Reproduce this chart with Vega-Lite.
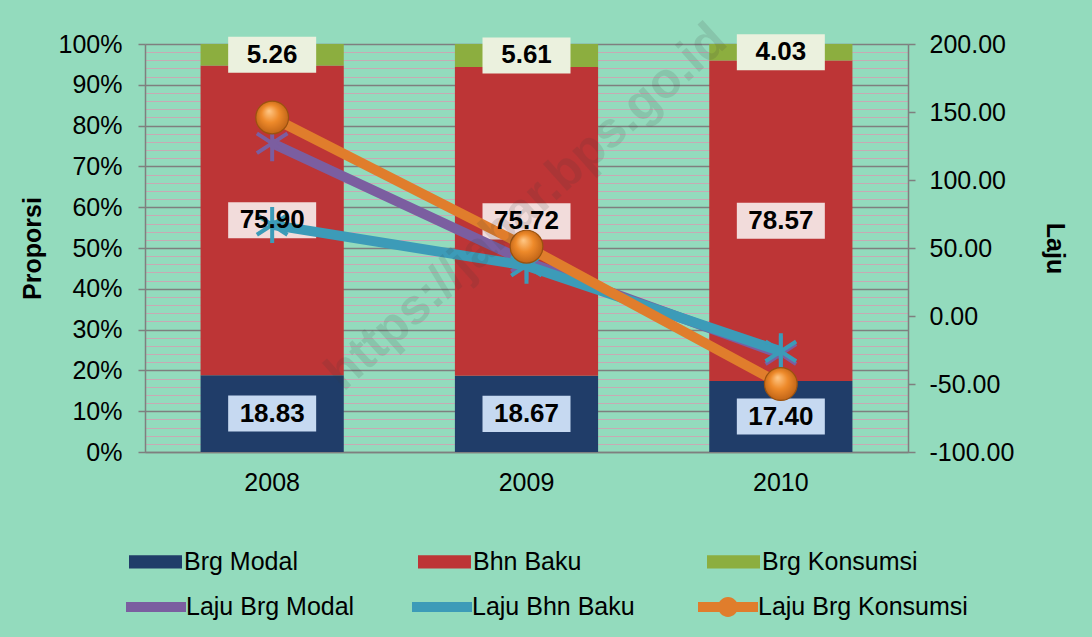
{
  "$schema": "https://vega.github.io/schema/vega-lite/v6.json",
  "width": 763,
  "height": 408,
  "autosize": {"type": "none"},
  "padding": {"left": 145, "top": 44, "right": 184, "bottom": 185},
  "background": "#93dbbd",
  "config": {
    "view": {"stroke": null},
    "font": "Liberation Sans",
    "axis": {"labelFont": "Liberation Sans", "titleFont": "Liberation Sans", "labelColor": "#000000", "titleColor": "#000000"},
    "legend": {"labelFont": "Liberation Sans", "labelColor": "#000000"}
  },
  "datasets": {
    "bars": [
      {"year": "2008", "part": "Brg Modal", "value": 18.83},
      {"year": "2008", "part": "Bhn Baku", "value": 75.90},
      {"year": "2008", "part": "Brg Konsumsi", "value": 5.26},
      {"year": "2009", "part": "Brg Modal", "value": 18.67},
      {"year": "2009", "part": "Bhn Baku", "value": 75.72},
      {"year": "2009", "part": "Brg Konsumsi", "value": 5.61},
      {"year": "2010", "part": "Brg Modal", "value": 17.40},
      {"year": "2010", "part": "Bhn Baku", "value": 78.57},
      {"year": "2010", "part": "Brg Konsumsi", "value": 4.03}
    ],
    "laju": [
      {"year": "2008", "series": "Laju Brg Modal", "value": 127},
      {"year": "2009", "series": "Laju Brg Modal", "value": 40},
      {"year": "2010", "series": "Laju Brg Modal", "value": -28},
      {"year": "2008", "series": "Laju Bhn Baku", "value": 67},
      {"year": "2009", "series": "Laju Bhn Baku", "value": 37},
      {"year": "2010", "series": "Laju Bhn Baku", "value": -26},
      {"year": "2008", "series": "Laju Brg Konsumsi", "value": 146},
      {"year": "2009", "series": "Laju Brg Konsumsi", "value": 51},
      {"year": "2010", "series": "Laju Brg Konsumsi", "value": -50}
    ],
    "watermark": [
      {"year": "2009", "text": "https://jabar.bps.go.id", "value": 80}
    ]
  },
  "encoding": {
    "x": {
      "field": "year",
      "type": "nominal",
      "scale": {"paddingInner": 0.437, "paddingOuter": 0.2185},
      "axis": {"title": null, "labelAngle": 0, "labelFontSize": 25, "labelPadding": 18, "ticks": false, "domainColor": "#7f7f7f", "domainWidth": 1.5}
    }
  },
  "resolve": {"scale": {"y": "independent"}, "axis": {"y": "independent"}},
  "layer": [
    {
      "data": {"name": "bars"},
      "transform": [
        {"calculate": "indexof(['Brg Modal','Bhn Baku','Brg Konsumsi'], datum.part)", "as": "ord"},
        {"stack": "value", "groupby": ["year"], "sort": [{"field": "ord", "order": "ascending"}], "offset": "normalize", "as": ["y0", "y1"]},
        {"calculate": "(datum.y0 + datum.y1) / 2", "as": "ymid"}
      ],
      "layer": [
        {
          "mark": {"type": "bar"},
          "encoding": {
            "y": {
              "field": "y1",
              "type": "quantitative",
              "scale": {"domain": [0, 1]},
              "axis": {
                "title": "Proporsi",
                "orient": "left",
                "values": [0, 0.02, 0.04, 0.06, 0.08, 0.1, 0.12, 0.14, 0.16, 0.18, 0.2, 0.22, 0.24, 0.26, 0.28, 0.3, 0.32, 0.34, 0.36, 0.38, 0.4, 0.42, 0.44, 0.46, 0.48, 0.5, 0.52, 0.54, 0.56, 0.58, 0.6, 0.62, 0.64, 0.66, 0.68, 0.7, 0.72, 0.74, 0.76, 0.78, 0.8, 0.82, 0.84, 0.86, 0.88, 0.9, 0.92, 0.94, 0.96, 0.98, 1],
                "tickCount": 200,
                "format": ".0%",
                "labelExpr": "round(datum.value*100) % 10 == 0 ? datum.label : ''",
                "labelOverlap": false,
                "labelFontSize": 25,
                "labelPadding": 16,
                "tickSize": 7,
                "tickWidth": 1.5,
                "tickColor": {"condition": {"test": "round(datum.value*100) % 10 == 0", "value": "#7f7f7f"}, "value": "transparent"},
                "grid": true,
                "gridWidth": {"condition": {"test": "round(datum.value*100) % 10 == 0", "value": 1.5}, "value": 1.2},
                "gridColor": {"condition": {"test": "round(datum.value*100) % 10 == 0", "value": "#7f7f7f"}, "value": "#c7aab4"},
                "domainColor": "#7f7f7f",
                "domainWidth": 1.5,
                "titleFontSize": 25,
                "titleFontWeight": "bold",
                "titlePadding": 13
              }
            },
            "y2": {"field": "y0"},
            "fill": {
              "field": "part",
              "type": "nominal",
              "scale": {"domain": ["Brg Modal", "Bhn Baku", "Brg Konsumsi"], "range": ["#203d69", "#bd3536", "#8cae3f"]},
              "legend": {
                "title": null,
                "orient": "none",
                "legendX": -16,
                "legendY": 491,
                "direction": "horizontal",
                "columns": 3,
                "gridAlign": "all",
                "columnPadding": 78,
                "symbolType": "M-1,-0.25H1V0.25H-1Z",
                "symbolSize": 2809,
                "symbolStrokeWidth": 0,
                "labelFontSize": 25,
                "labelOffset": 2,
                "labelLimit": 400
              }
            }
          }
        },
        {
          "mark": {"type": "point", "shape": "M-1,-0.41H1V0.41H-1Z", "size": 7744, "filled": true, "opacity": 1},
          "encoding": {
            "y": {"field": "ymid", "type": "quantitative", "axis": {"title": "Proporsi"}},
            "color": {
              "field": "part",
              "type": "nominal",
              "scale": {"domain": ["Brg Modal", "Bhn Baku", "Brg Konsumsi"], "range": ["#c6d9f1", "#f2dcdb", "#ebf1de"]},
              "legend": null
            }
          }
        }
      ]
    },
    {
      "data": {"name": "laju"},
      "encoding": {
        "y": {
          "field": "value",
          "type": "quantitative",
          "scale": {"domain": [-100, 200]},
          "axis": {
            "orient": "right",
            "title": "Laju",
            "values": [-100, -50, 0, 50, 100, 150, 200],
            "format": ".2f",
            "labelExpr": "replace(datum.label, '\u2212', '-')",
            "labelOverlap": false,
            "grid": false,
            "tickSize": 7,
            "tickWidth": 1.5,
            "tickColor": "#7f7f7f",
            "domainColor": "#7f7f7f",
            "domainWidth": 1.5,
            "labelFontSize": 25,
            "labelPadding": 14,
            "titleFontSize": 25,
            "titleFontWeight": "bold",
            "titleAngle": 90,
            "titlePadding": 28
          }
        }
      },
      "layer": [
        {
          "transform": [{"filter": "datum.series === 'Laju Brg Modal'"}],
          "mark": {"type": "line", "strokeWidth": 10},
          "encoding": {
            "stroke": {
              "field": "series",
              "type": "nominal",
              "scale": {"domain": ["Laju Brg Modal", "Laju Bhn Baku", "Laju Brg Konsumsi"], "range": ["#7b5ea0", "#3c9bb8", "#e07d2c"]},
              "legend": {
                "title": null,
                "orient": "none",
                "legendX": -19,
                "legendY": 533,
                "direction": "horizontal",
                "columns": 3,
                "gridAlign": "all",
                "columnPadding": 16,
                "symbolSize": 3600,
                "labelFontSize": 25,
                "labelOffset": 0,
                "labelLimit": 400,
                "encode": {
                  "symbols": {
                    "update": {
                      "shape": {"signal": "datum.value === 'Laju Brg Konsumsi' ? 'M-1,-0.17H1V0.17H-1Z M-0.33,0A0.33,0.33 0 1,1 0.33,0A0.33,0.33 0 1,1 -0.33,0Z' : 'M-1,-0.17H1V0.17H-1Z'"},
                      "fill": {"signal": "datum.value === 'Laju Brg Modal' ? '#7b5ea0' : datum.value === 'Laju Bhn Baku' ? '#3c9bb8' : '#e07d2c'"},
                      "fillOpacity": {"value": 1},
                      "strokeWidth": {"value": 0}
                    }
                  }
                }
              }
            }
          }
        },
        {
          "transform": [{"filter": "datum.series === 'Laju Brg Modal'"}],
          "mark": {"type": "point", "shape": "M0,-1V1M-0.85,-0.55L0.85,0.55M-0.85,0.55L0.85,-0.55", "size": 1296, "strokeWidth": 4, "filled": false, "opacity": 1},
          "encoding": {"stroke": {"field": "series", "type": "nominal", "legend": null}}
        },
        {
          "transform": [{"filter": "datum.series === 'Laju Bhn Baku'"}],
          "mark": {"type": "line", "strokeWidth": 10},
          "encoding": {"stroke": {"field": "series", "type": "nominal", "legend": null}}
        },
        {
          "transform": [{"filter": "datum.series === 'Laju Bhn Baku'"}],
          "mark": {"type": "point", "shape": "M0,-1V1M-0.85,-0.55L0.85,0.55M-0.85,0.55L0.85,-0.55", "size": 1296, "strokeWidth": 4, "filled": false, "opacity": 1},
          "encoding": {"stroke": {"field": "series", "type": "nominal", "legend": null}}
        },
        {
          "transform": [{"filter": "datum.series === 'Laju Brg Konsumsi'"}],
          "mark": {"type": "line", "strokeWidth": 10},
          "encoding": {"stroke": {"field": "series", "type": "nominal", "legend": null}}
        },
        {
          "transform": [{"filter": "datum.series === 'Laju Brg Konsumsi'"}],
          "mark": {
            "type": "point",
            "shape": "circle",
            "size": 1075,
            "filled": true,
            "opacity": 1,
            "stroke": "#9a520f",
            "strokeWidth": 1.2,
            "fill": {
              "gradient": "radial",
              "x1": 0.4, "y1": 0.3, "r1": 0,
              "x2": 0.5, "y2": 0.5, "r2": 0.6,
              "stops": [
                {"offset": 0, "color": "#ffc887"},
                {"offset": 0.45, "color": "#ee8a2a"},
                {"offset": 1, "color": "#b45a12"}
              ]
            }
          }
        },
        {
          "data": {"name": "watermark"},
          "mark": {"type": "text", "angle": -42, "fontSize": 50, "fontWeight": "bold", "color": "#3a3a3a", "opacity": 0.13},
          "encoding": {"text": {"field": "text"}}
        }
      ]
    },
    {
      "data": {"name": "bars"},
      "transform": [
        {"calculate": "indexof(['Brg Modal','Bhn Baku','Brg Konsumsi'], datum.part)", "as": "ord"},
        {"stack": "value", "groupby": ["year"], "sort": [{"field": "ord", "order": "ascending"}], "offset": "normalize", "as": ["y0", "y1"]},
        {"calculate": "(datum.y0 + datum.y1) / 2", "as": "ymid"}
      ],
      "mark": {"type": "text", "fontSize": 26, "fontWeight": "bold", "color": "#000000"},
      "encoding": {
        "y": {"field": "ymid", "type": "quantitative", "scale": {"domain": [0, 1]}, "axis": null},
        "text": {"field": "value", "type": "quantitative", "format": ".2f"}
      }
    }
  ]
}
